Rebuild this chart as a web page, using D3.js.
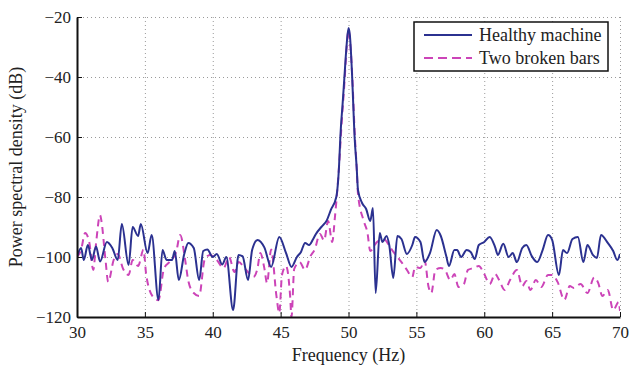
<!DOCTYPE html>
<html>
<head>
<meta charset="utf-8">
<script src="https://cdn.jsdelivr.net/npm/d3@7"></script>
<style>
  body { margin: 0; background: #fff; }
  svg text { font-family: "Liberation Serif", "Times New Roman", serif; fill: #222; }
  .grid line { stroke: #9a9a9a; stroke-dasharray: 1,3; stroke-width: 1; }
  .grid path { display: none; }
  .axis path, .axis line { stroke: #111; }
  .axis text { font-size: 17px; }
</style>
</head>
<body>
<svg width="630" height="367"></svg>
<script>
// x ticks, y ticks
const xTicks = [30, 35, 40, 45, 50, 55, 60, 65, 70];
const yTicks = [-120, -100, -80, -60, -40, -20];

const seriesNames = ['Healthy machine', 'Two broken bars'];

// healthy machine PSD
const healthyFreq = [30.0, 30.3, 30.5, 30.8, 31.1, 31.4, 31.7, 32.2, 32.6, 33.0, 33.3, 33.8, 34.1, 34.5, 34.7,
  35.2, 35.5, 36.0, 36.3, 36.6, 37.0, 37.2, 37.5, 37.9, 38.2, 38.6, 39.0, 39.3, 39.6, 40.0, 40.3, 40.7,
  41.0, 41.5, 41.9, 42.2, 42.6, 42.9, 43.3, 43.8, 44.3, 44.9, 45.4, 45.8, 46.2, 46.5, 46.8, 47.1, 47.4,
  47.6, 48.0, 48.4, 48.7, 49.1, 49.3, 49.4, 49.45, 49.55, 49.7, 49.85, 50.0, 50.1, 50.27, 50.4, 50.45,
  50.6, 50.7, 51.0, 51.3, 51.6, 51.8, 52.0, 52.3, 52.5, 52.8, 53.0, 53.3, 53.6, 53.9, 54.3, 54.7, 54.9,
  55.3, 55.6, 56.0, 56.5, 56.8, 57.2, 57.4, 57.8, 58.0, 58.3, 58.7, 59.0, 59.3, 59.6, 60.0, 60.4, 60.8,
  61.0, 61.4, 61.8, 62.1, 62.4, 62.8, 63.1, 63.5, 63.9, 64.3, 64.7, 65.0, 65.5, 65.8, 66.1, 66.5, 66.9,
  67.3, 67.6, 68.0, 68.3, 68.6, 69.1, 69.5, 69.8, 70.0];
const healthyPsd = [-100, -97, -101, -96, -101, -96.5, -101.5, -95, -97, -101, -89, -102.7, -90, -93, -89,
  -98.7, -92.7, -114.3, -97.7, -101, -101, -98, -107.7, -99, -95.3, -97, -107.7, -98, -97.5, -100, -99, -102.5,
  -100, -117.7, -99.3, -99.8, -107.7, -97.7, -94.3, -96.8, -103.3, -93.3, -98.7, -103.3, -100, -98.3, -95.3, -96, -94,
  -92.3, -90, -87.8, -84.3, -80, -70, -60, -56, -50, -40, -30, -23.7, -26, -40, -55, -60,
  -70, -77.7, -82, -84, -88, -83.7, -112, -92, -95, -93, -96, -107, -93, -94, -99, -96, -93.3,
  -95, -101.7, -98.7, -91, -93, -99.7, -103, -97.7, -97.7, -100, -97.7, -98.3, -100.7, -96, -95, -93.3, -96.7,
  -99.3, -95.6, -100, -98.7, -101.7, -97, -96, -99.7, -101.7, -97.7, -92.7, -94.3, -106, -97.7, -98.7, -94, -93.3,
  -101.7, -96, -99.3, -100.3, -92.7, -95.3, -98, -101, -99];

// two broken bars PSD
const brokenFreq = [30.0, 30.3, 30.6, 30.9, 31.2, 31.4, 31.7, 31.8, 32.1, 32.3, 32.7, 33.0, 33.4, 33.8, 34.1,
  34.5, 34.9, 35.1, 35.6, 36.0, 36.4, 36.8, 37.3, 37.6, 38.0, 38.2, 38.6, 39.0, 39.4, 39.8, 40.3, 40.8,
  41.2, 41.6, 41.9, 42.4, 43.0, 43.3, 43.5, 43.8, 44.0, 44.3, 44.7, 44.9, 45.1, 45.4, 45.7, 45.8, 46.0,
  46.4, 46.8, 47.2, 47.5, 47.9, 48.2, 48.5, 48.8, 49.0, 49.3, 49.5, 49.7, 49.85, 50.0, 50.15, 50.3, 50.45,
  50.6, 50.7, 51.1, 51.4, 51.6, 52.1, 52.6, 53.1, 53.6, 53.9, 54.3, 54.7, 54.9, 55.3, 55.6, 55.9, 56.1,
  56.4, 56.8, 57.1, 57.5, 57.8, 58.1, 58.5, 58.8, 59.2, 59.6, 60.0, 60.4, 60.8, 61.1, 61.5, 61.9, 62.4,
  62.8, 63.1, 63.4, 63.8, 64.2, 64.7, 65.0, 65.4, 65.9, 66.3, 66.6, 67.1, 67.6, 68.1, 68.4, 68.7, 69.1,
  69.5, 69.9, 70.0];
const brokenPsd = [-100, -97.6, -92, -95, -104.3, -95.6, -86, -88, -101, -108.3, -101, -99, -104, -106, -101,
  -103, -97.6, -106, -113.3, -114.4, -104, -101.7, -98.4, -92.7, -102, -108, -112, -113, -101, -99.3, -101, -103.7,
  -100, -105, -101.7, -104, -106.6, -103.7, -98.7, -103.7, -108.7, -97.5, -113.3, -118.7, -106, -103, -113, -120, -104,
  -101.7, -104.3, -99.7, -97.6, -92.3, -94.5, -88, -95, -86.7, -70, -55, -42, -31, -24.5, -30, -42, -58,
  -70, -79, -87.7, -92, -98, -95, -94, -97, -100, -101.7, -104.3, -106.7, -103.3, -103.7, -101, -110, -112,
  -104.3, -103.7, -104.3, -107.7, -105.7, -110, -109, -104.3, -103.7, -103, -105.7, -109, -105.7, -107.7, -111, -107.7, -104.3,
  -109.7, -108, -111, -107.7, -110, -106, -106, -108.3, -114.3, -109.7, -110.3, -109, -112, -106.8, -108.7, -113, -111,
  -117.7, -115, -118];

const margin = {top: 17, right: 10, bottom: 50, left: 77};
const svg = d3.select('svg');
const width = +svg.attr('width') - margin.left - margin.right;
const height = +svg.attr('height') - margin.top - margin.bottom;

const x = d3.scaleLinear().domain([30, 70]).range([0, width]);
const y = d3.scaleLinear().domain([-120, -20]).range([height, 0]);

const g = svg.append('g').attr('transform', 'translate(' + margin.left + ',' + margin.top + ')');

svg.append('defs').append('clipPath').attr('id', 'plot')
  .append('rect').attr('width', width).attr('height', height);

// dotted grid
g.append('g').attr('class', 'grid')
  .call(d3.axisBottom(x).tickValues(xTicks).tickSize(height).tickFormat(''));
g.append('g').attr('class', 'grid')
  .attr('transform', 'translate(' + width + ',0)')
  .call(d3.axisLeft(y).tickValues(yTicks).tickSize(width).tickFormat(''));

const line = (xs, ys) => d3.line()
  .x((d, i) => x(xs[i]))
  .y(d => y(d))
  .curve(d3.curveMonotoneX)(ys);

g.append('path')
  .attr('clip-path', 'url(#plot)')
  .attr('d', line(brokenFreq, brokenPsd))
  .attr('fill', 'none')
  .attr('stroke', '#cc44b8')
  .attr('stroke-width', 2)
  .attr('stroke-dasharray', '7,5');

g.append('path')
  .attr('clip-path', 'url(#plot)')
  .attr('d', line(healthyFreq, healthyPsd))
  .attr('fill', 'none')
  .attr('stroke', '#2b3190')
  .attr('stroke-width', 2);

// axes, ticks pointing inward
g.append('g').attr('class', 'axis')
  .attr('transform', 'translate(0,' + height + ')')
  .call(d3.axisBottom(x).tickValues(xTicks).tickSizeInner(-5).tickSizeOuter(0).tickPadding(9))
  .call(a => a.select('.domain').attr('stroke-width', 2));
g.append('g').attr('class', 'axis')
  .call(d3.axisLeft(y).tickValues(yTicks).tickSizeInner(-5).tickSizeOuter(0).tickPadding(6)
    .tickFormat(d => String(d).replace('-', '\u2212')))
  .call(a => a.select('.domain').attr('stroke-width', 2));

svg.append('text')
  .attr('x', margin.left + width / 2)
  .attr('y', 361)
  .attr('text-anchor', 'middle')
  .attr('font-size', 18)
  .text('Frequency (Hz)');

svg.append('text')
  .attr('transform', 'translate(22,' + (margin.top + height / 2) + ') rotate(-90)')
  .attr('text-anchor', 'middle')
  .attr('font-size', 18)
  .text('Power spectral density (dB)');

// legend
const legend = svg.append('g').attr('transform', 'translate(414,22)');
legend.append('rect')
  .attr('width', 194).attr('height', 49)
  .attr('fill', '#fff').attr('stroke', '#111').attr('stroke-width', 1.5);
const colors = ['#2b3190', '#cc44b8'];
seriesNames.forEach((name, i) => {
  const ly = 13 + i * 23;
  legend.append('line')
    .attr('x1', 10).attr('x2', 58).attr('y1', ly).attr('y2', ly)
    .attr('stroke', colors[i]).attr('stroke-width', 2)
    .attr('stroke-dasharray', i === 1 ? '9,5' : null);
  legend.append('text')
    .attr('x', 65).attr('y', ly + 6)
    .attr('font-size', 18)
    .text(name);
});
</script>
</body>
</html>
